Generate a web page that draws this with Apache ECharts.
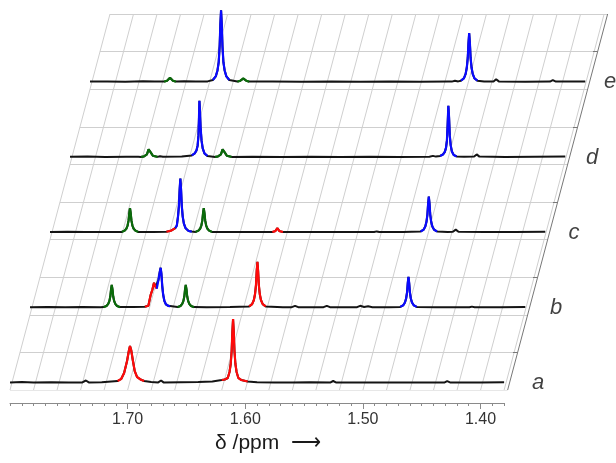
<!DOCTYPE html>
<html>
<head>
<meta charset="utf-8">
<title>NMR stack</title>
<script src="https://cdn.jsdelivr.net/npm/echarts@6/dist/echarts.min.js"></script>
<style>
  html, body { margin: 0; padding: 0; background: #fff; }
  #chart { width: 616px; height: 463px; }
</style>
</head>
<body>
<div id="chart"></div>
<script>
  // spectra, [ppm, intensity], a (bottom) .. e (top)
  const specA = [
    [1.800,0.6],[1.790,0.9],[1.780,0.5],[1.765,0.8],[1.750,0.5],[1.7385,0.6],[1.7355,2.5],[1.733,0.6],[1.722,0.8],
    [1.7085,2],[1.7055,4],[1.703,10],[1.7005,22],[1.699,32],[1.698,37],[1.697,33],[1.6955,22],[1.694,12],[1.692,6],
    [1.689,3.5],[1.686,2],[1.680,1],[1.674,0.6],[1.6716,2.5],[1.6695,0.6],[1.655,0.8],[1.640,1],[1.628,1.5],
    [1.620,3],[1.6174,3.5],[1.6149,5],[1.6134,11],[1.6124,19],[1.6116,32],[1.6110,51],[1.6104,64],[1.6098,51],
    [1.6092,32],[1.6084,19],[1.6074,11],[1.6059,5],[1.6034,3],[1.598,1.5],[1.590,0.8],
    [1.575,0.6],[1.560,0.5],[1.545,0.7],[1.5275,0.6],[1.5253,2],[1.523,0.6],[1.505,0.5],[1.480,0.6],[1.455,0.4],
    [1.4305,0.6],[1.4284,1.8],[1.426,0.6],[1.400,0.5],[1.380,0.8]
  ];
  const specB = [
    [1.800,0.6],[1.785,0.8],[1.770,0.5],[1.755,0.7],[1.740,0.6],
    [1.7375,0.7],[1.735,1.8],[1.7335,3.9],[1.7325,6.9],[1.7317,11.5],[1.7311,18.4],[1.7305,23],[1.7299,18.4],
    [1.7293,11.5],[1.7285,6.9],[1.7275,3.9],[1.726,1.8],[1.7235,0.7],[1.712,0.8],
    [1.7023,1],[1.6994,2],[1.6974,13],[1.6960,18],[1.6946,25],[1.6933,21],[1.6923,19],[1.6908,28],[1.6895,37],
    [1.6889,40],[1.6883,34],[1.6876,22],[1.6868,13],[1.6858,7],[1.6845,3.5],[1.6825,2],[1.6810,1.2],
    [1.6746,0.7],[1.6721,1.8],[1.6706,3.9],[1.6696,6.9],[1.6688,11.5],[1.6682,18.4],[1.6676,23],[1.667,18.4],
    [1.6664,11.5],[1.6656,6.9],[1.6646,3.9],[1.6631,1.8],[1.6606,0.7],[1.650,0.6],[1.630,0.7],
    [1.6137,1.4],[1.6112,3.7],[1.6097,7.8],[1.6087,13.8],[1.6079,23],[1.6073,36.8],[1.6067,46],[1.6061,36.8],
    [1.6055,23],[1.6047,13.8],[1.6037,7.8],[1.6022,3.7],[1.5997,1.4],[1.585,0.6],
    [1.5775,0.6],[1.5747,2],[1.572,0.6],[1.560,0.5],[1.5505,0.6],[1.5477,2],[1.545,0.6],[1.530,0.5],[1.522,0.6],
    [1.5194,2],[1.516,0.8],[1.5126,1.5],[1.509,0.6],[1.495,0.6],
    [1.4853,0.9],[1.4828,2.5],[1.4813,5.3],[1.4803,9.3],[1.4795,15.5],[1.4789,24.8],[1.4783,31],[1.4777,24.8],
    [1.4771,15.5],[1.4763,9.3],[1.4753,5.3],[1.4738,2.5],[1.4713,0.9],[1.455,0.6],[1.4265,0.5],[1.4244,1.2],[1.422,0.5],
    [1.400,0.6],[1.379,0.8]
  ];
  const specC = [
    [1.800,0.6],[1.785,0.8],[1.770,0.5],[1.755,0.6],[1.742,0.6],
    [1.739,0.7],[1.7365,2],[1.735,4.1],[1.734,7.3],[1.7332,12.2],[1.7326,19.5],[1.732,24.4],[1.7314,19.5],
    [1.7308,12.2],[1.730,7.3],[1.729,4.1],[1.7275,2],[1.725,0.7],[1.712,0.6],
    [1.701,0.8],[1.697,2],[1.6935,4.5],[1.6922,7],[1.6912,16],[1.6904,27],[1.6898,43],[1.6892,54],[1.6886,43],
    [1.688,27],[1.6872,16],[1.6862,9],[1.6847,4.3],[1.6822,1.6],[1.6795,1],
    [1.6763,0.7],[1.6738,2],[1.6723,4.1],[1.6713,7.3],[1.6705,12.2],[1.6699,19.5],[1.6693,24.4],[1.6687,19.5],
    [1.6681,12.2],[1.6673,7.3],[1.6663,4.1],[1.6648,2],[1.6623,0.7],[1.645,0.6],[1.625,0.6],
    [1.611,0.6],[1.6085,1.5],[1.6067,4.4],[1.605,1.5],[1.602,0.6],[1.580,0.5],[1.555,0.6],[1.5245,0.6],[1.5223,1.2],
    [1.520,0.6],[1.500,0.5],
    [1.485,1.1],[1.4825,2.9],[1.481,6.1],[1.480,10.8],[1.4792,18],[1.4786,28.8],[1.478,36],[1.4774,28.8],
    [1.4768,18],[1.476,10.8],[1.475,6.1],[1.4735,2.9],[1.471,1.1],
    [1.462,0.6],[1.4575,0.8],[1.4551,3],[1.4528,0.8],[1.430,0.5],[1.405,0.6],[1.379,0.8]
  ];
  const specD = [
    [1.800,0.6],[1.785,0.8],[1.770,0.5],[1.752,0.7],[1.742,0.6],
    [1.7396,0.5],[1.7371,1],[1.7356,1.7],[1.7346,3],[1.7338,5],[1.7332,8],[1.7326,10],[1.732,8],[1.7314,5],
    [1.7306,3],[1.7296,1.7],[1.7281,1],[1.7256,0.5],[1.7235,1.2],[1.721,0.6],[1.705,0.8],
    [1.6965,2],[1.694,4],[1.6925,7],[1.6915,12],[1.6908,22],[1.6904,38],[1.6900,56.7],[1.6895,45],[1.689,30],
    [1.6882,17],[1.6872,9],[1.6857,4],[1.6832,1.5],
    [1.6767,0.5],[1.6742,1],[1.6727,1.7],[1.6717,3],[1.6709,5],[1.6703,8],[1.6697,10],[1.6691,8],[1.6685,5],
    [1.6677,3],[1.6667,1.7],[1.6652,1],[1.6627,0.5],[1.645,0.6],[1.620,0.5],[1.595,0.6],
    [1.570,0.5],[1.545,0.6],[1.520,0.5],[1.4945,0.6],[1.4915,1.5],[1.489,0.8],
    [1.4854,1.5],[1.4829,3],[1.4814,5.5],[1.4804,9.5],[1.4796,17],[1.479,33],[1.4784,51.7],[1.4778,40],[1.4772,22],
    [1.4764,12],[1.4754,6],[1.4739,2.5],[1.4714,1],
    [1.465,0.6],[1.4565,0.8],[1.4543,3],[1.452,0.8],[1.430,0.5],[1.405,0.6],[1.379,0.8]
  ];
  const specE = [
    [1.800,0.6],[1.785,0.8],[1.770,0.5],[1.755,1],[1.745,0.6],
    [1.737,0.6],[1.7345,1.5],[1.7332,3],[1.732,4.4],[1.7308,3],[1.7295,1.5],[1.727,0.6],[1.720,1],[1.710,0.6],[1.700,0.8],
    [1.6956,2.2],[1.6931,5.8],[1.6916,12],[1.6906,20],[1.6898,36],[1.6892,58],[1.6886,72],[1.688,58],[1.6874,36],
    [1.6866,20],[1.6856,12],[1.6841,5.8],[1.6816,2.2],
    [1.6747,0.6],[1.6722,1.5],[1.6709,2.6],[1.6697,3.7],[1.6685,2.6],[1.6672,1.5],[1.6647,0.6],
    [1.645,0.6],[1.620,0.5],[1.595,0.6],[1.570,0.5],[1.545,0.6],[1.520,0.5],[1.495,0.6],[1.4925,0.6],
    [1.4898,1.5],[1.487,0.8],
    [1.4847,1.5],[1.4822,3.9],[1.4807,8.3],[1.4797,14.7],[1.4789,24.5],[1.4783,39.2],[1.4777,49],[1.4771,39.2],
    [1.4765,24.5],[1.4757,14.7],[1.4747,8.3],[1.4732,3.9],[1.4707,1.5],
    [1.465,0.6],[1.457,0.8],[1.4548,3],[1.4525,0.8],[1.430,0.5],[1.409,0.6],[1.4066,2],[1.404,0.6],[1.379,0.8]
  ];

  // coloured signal ranges [colour, from ppm, to ppm]
  const colorsA = [['red',1.7085,1.686],['red',1.620,1.598]];
  const colorsB = [['green',1.7375,1.7235],['red',1.7023,1.6923],['blue',1.6923,1.6810],['green',1.6746,1.6606],['red',1.6137,1.5997],['blue',1.4853,1.4713]];
  const colorsC = [['green',1.739,1.725],['red',1.701,1.6935],['blue',1.6935,1.6795],['green',1.6763,1.6623],['red',1.611,1.602],['blue',1.485,1.471]];
  const colorsD = [['green',1.7396,1.7256],['blue',1.6965,1.6832],['green',1.6767,1.6627],['blue',1.4854,1.4714]];
  const colorsE = [['green',1.737,1.727],['blue',1.6956,1.6816],['green',1.6747,1.6647],['blue',1.4847,1.4707]];

  const traceNames = ['a', 'b', 'c', 'd', 'e'];
  const tickLabels = [1.4, 1.5, 1.6, 1.7];
  const gridPpm = [1.80,1.78,1.76,1.74,1.72,1.70,1.68,1.66,1.64,1.62,1.60,1.58,1.56,1.54,1.52,1.50,1.48,1.46,1.44,1.42,1.40,1.38];
  const rowY = [0,37.6,75.2,112.8,150.4,188,225.6,263.2,300.8,338.4,376];

  // layout of the slanted box
  const LEFT = 1.80, RIGHT = 1.377;
  const TOP_Y = 376;
  const SKEW = 0.085 / TOP_Y;   // ppm shift per y unit
  const PANEL = 75.2, BASE = 7;
  const SHIFT = PANEL * SKEW;
  const COLORS = { red: '#ff0a0a', blue: '#0a0aff', green: '#0a6b0a' };

  const spectra = [specA, specB, specC, specD, specE];
  const ranges = [colorsA, colorsB, colorsC, colorsD, colorsE];

  function place(points, k) {
    return points.map(p => [p[0] - k * SHIFT, BASE + k * PANEL + p[1]]);
  }

  const gridLines = [];
  gridPpm.forEach(p => gridLines.push({ coords: [[p, 0], [p - TOP_Y * SKEW, TOP_Y]] }));
  rowY.forEach(y => gridLines.push({ coords: [[LEFT - y * SKEW, y], [RIGHT - y * SKEW, y]] }));

  const edgeTicks = [];
  rowY.forEach((y, i) => {
    if (i % 2 === 1) edgeTicks.push({ coords: [[RIGHT - y * SKEW, y], [RIGHT - y * SKEW + 0.004, y]] });
  });

  const series = [
    {
      type: 'lines', coordinateSystem: 'cartesian2d', silent: true, z: 1,
      data: gridLines,
      lineStyle: { color: '#cfcfcf', width: 1, opacity: 1 }
    },
    {
      type: 'lines', coordinateSystem: 'cartesian2d', silent: true, z: 2,
      data: [{ coords: [[RIGHT, 0], [RIGHT - TOP_Y * SKEW, TOP_Y]] }].concat(edgeTicks),
      lineStyle: { color: '#777', width: 1, opacity: 1 }
    }
  ];

  spectra.forEach((spec, k) => {
    series.push({
      type: 'line', data: place(spec, k), showSymbol: false, clip: false, z: 3,
      lineStyle: { color: '#141414', width: 2 }, silent: true
    });
    ranges[k].forEach(r => {
      const pts = spec.filter(p => p[0] <= r[1] + 1e-9 && p[0] >= r[2] - 1e-9);
      series.push({
        type: 'line', data: place(pts, k), showSymbol: false, clip: false, z: 4,
        lineStyle: { color: COLORS[r[0]], width: 2.2 }, silent: true
      });
    });
  });

  // trace letters at the right end of each baseline
  series.push({
    type: 'scatter', clip: false, silent: true, symbolSize: 1, z: 5,
    itemStyle: { color: 'transparent' },
    data: traceNames.map((n, k) => ({ value: [1.3512 - k * 0.0153, BASE + k * PANEL], name: n })),
    label: {
      show: true, position: 'inside', formatter: p => p.name,
      fontFamily: 'Liberation Sans', fontStyle: 'italic', fontSize: 22, color: '#111'
    }
  });

  const chart = echarts.init(document.getElementById('chart'));
  chart.setOption({
    animation: false,
    backgroundColor: '#fff',
    grid: [
      { left: 10, top: 4, width: 600, height: 386 },
      { left: 10, top: 398, width: 494, height: 5 }
    ],
    xAxis: [
      { gridIndex: 0, type: 'value', min: 1.29, max: 1.80, inverse: true, show: false },
      {
        gridIndex: 1, type: 'value', position: 'bottom', min: 1.38, max: 1.80, interval: 0.01, inverse: true,
        axisLine: { lineStyle: { color: '#8a8a8a', width: 1 } },
        axisTick: { length: 3, lineStyle: { color: '#8a8a8a' } },
        axisLabel: { show: false }, splitLine: { show: false }
      },
      {
        gridIndex: 1, type: 'value', position: 'bottom', offset: 0, min: 1.38, max: 1.80, inverse: true,
        axisLine: { show: false },
        axisTick: { length: 6, customValues: tickLabels, lineStyle: { color: '#8a8a8a' } },
        axisLabel: {
          customValues: tickLabels, formatter: v => v.toFixed(2), margin: 9,
          fontFamily: 'Liberation Sans', fontSize: 16, color: '#333'
        },
        splitLine: { show: false },
        name: 'δ /ppm  ⟶', nameLocation: 'middle', nameGap: 30,
        nameTextStyle: { fontFamily: 'Liberation Sans', fontSize: 21, color: '#1a1a1a', padding: [0, 0, 0, 22] }
      }
    ],
    yAxis: [
      { gridIndex: 0, type: 'value', min: 0, max: 386, show: false },
      { gridIndex: 1, type: 'value', show: false }
    ],
    series: series
  });
</script>
</body>
</html>
